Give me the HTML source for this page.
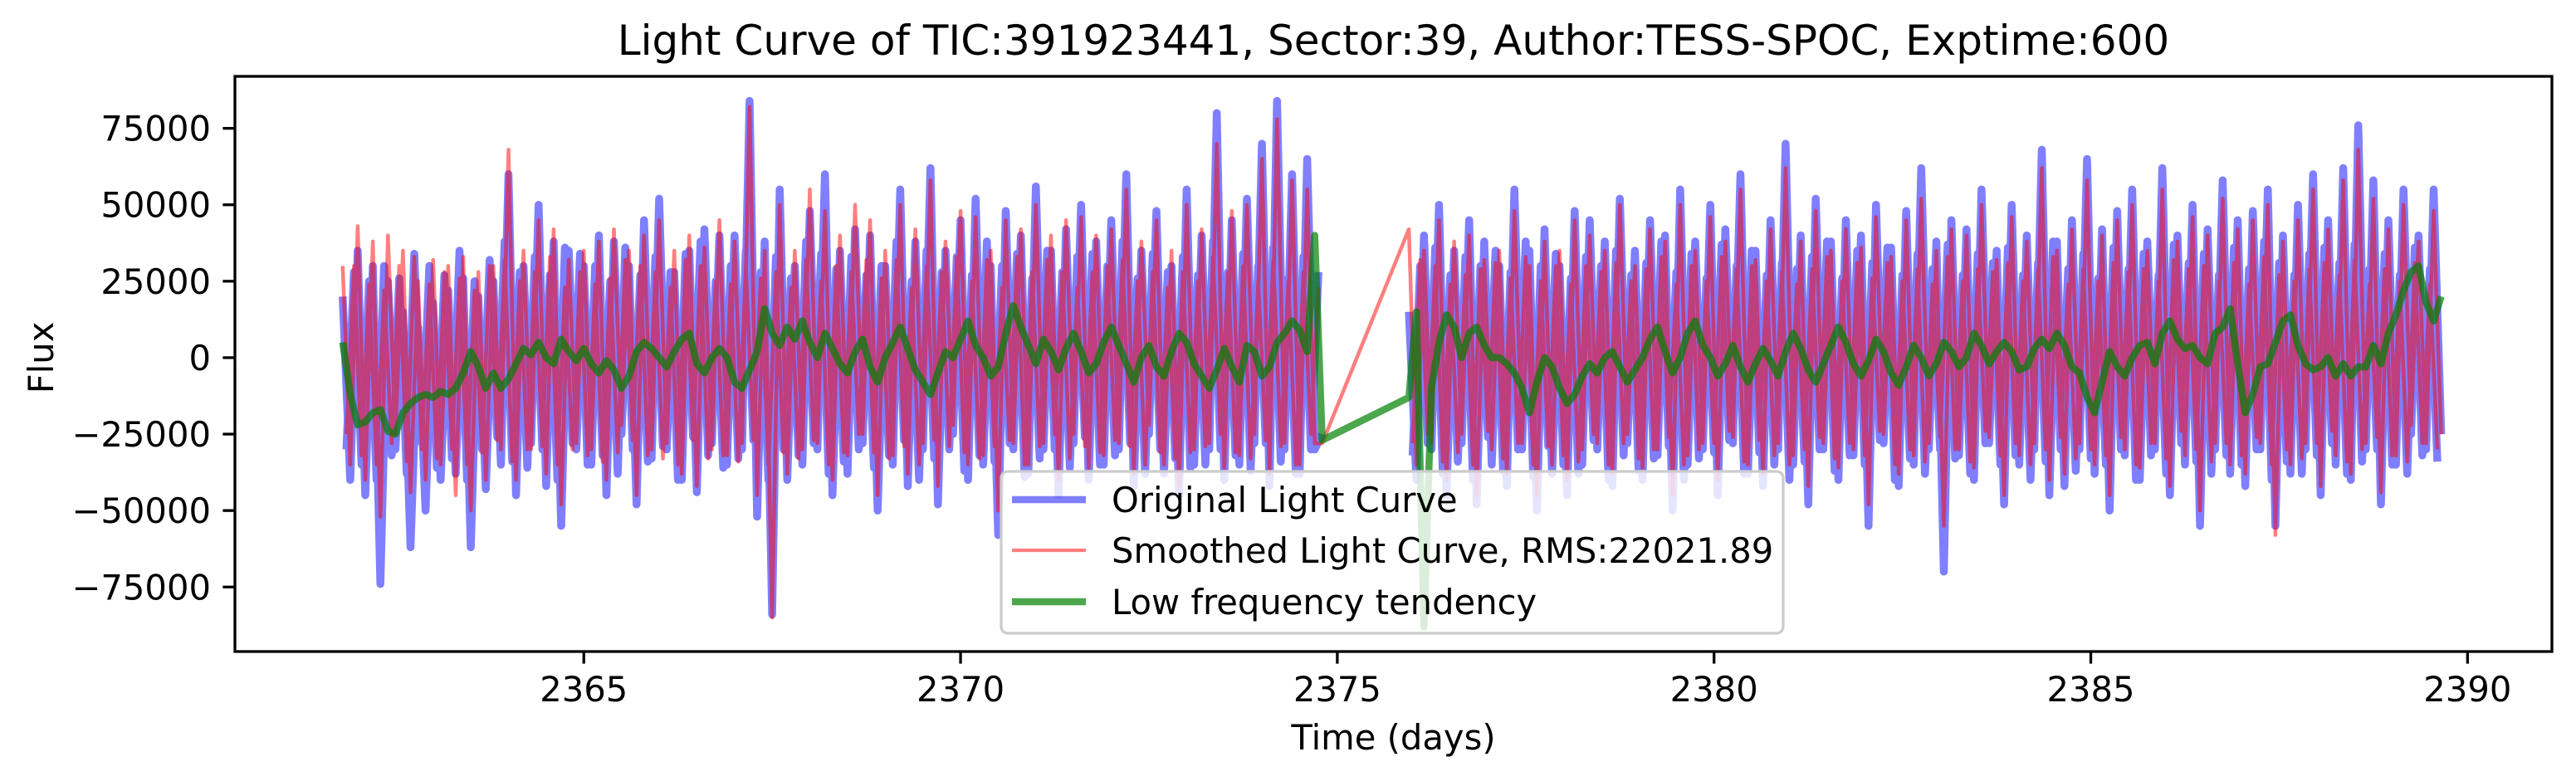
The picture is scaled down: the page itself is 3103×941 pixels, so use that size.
<!DOCTYPE html>
<html><head><meta charset="utf-8"><style>
html,body{margin:0;padding:0;background:#fff;}
svg{display:block;font-family:"DejaVu Sans","Liberation Sans",sans-serif;}
</style></head><body>
<svg id="chart" width="3103" height="941" viewBox="0 0 3103 941">
<rect x="0" y="0" width="3103" height="941" fill="#fff"/>
<g id="plot"></g>
</svg>
<script>
// ---- data ----
const blueStart1 = 2361.8, blueStart2 = 2375.95, step = 0.1;
const blue1 = [20000,-40000,35000,-45000,30000,-74000,25000,-30000,15000,-62000,
10000,-50000,18000,-40000,22000,-38000,26000,-62000,20000,-43000,
25000,-35000,60000,-45000,30000,-28000,50000,-42000,38000,-55000,
35000,-30000,30000,-35000,40000,-45000,38000,-25000,30000,-48000,
45000,-33000,52000,-30000,28000,-40000,35000,-44000,42000,-28000,
40000,-35000,40000,-30000,84000,-52000,38000,-84000,55000,-40000,
30000,-35000,48000,-30000,60000,-45000,35000,-38000,42000,-28000,
40000,-50000,30000,-35000,55000,-42000,38000,-30000,62000,-48000,
35000,-25000,45000,-40000,52000,-35000,30000,-58000,48000,-30000,
40000,-38000,56000,-30000,35000,-45000,42000,-28000,50000,-40000,
38000,-35000,45000,-30000,60000,-42000,35000,-25000,48000,-38000,
30000,-45000,55000,-35000,40000,-30000,80000,-40000,45000,-35000,
52000,-28000,70000,-42000,84000,-30000,60000,-38000,65000,-30000,
-25000];
const blue1b = [-30000,28000,-35000,25000,-40000,30000,-32000,26000,-38000,34000,
-28000,30000,-36000,27000,-33000,35000,-40000,25000,-30000,32000,
-26000,38000,-34000,28000,-36000,33000,-30000,27000,-40000,36000,
-28000,34000,-35000,30000,-32000,25000,-38000,36000,-30000,27000,
-34000,33000,-29000,28000,-40000,34000,-26000,38000,-32000,25000,
-36000,30000,-33000,35000,-27000,28000,-40000,33000,-30000,26000,
-32000,38000,-28000,34000,-38000,29000,-34000,33000,-30000,27000,
-36000,30000,-32000,38000,-27000,25000,-40000,35000,-33000,28000,
-30000,33000,-37000,27000,-32000,38000,-34000,30000,-28000,34000,
-39000,26000,-33000,35000,-30000,28000,-36000,33000,-26000,34000,
-35000,30000,-32000,38000,-28000,26000,-38000,34000,-30000,28000,
-33000,33000,-36000,27000,-35000,38000,-30000,28000,-32000,34000,
-37000,30000,-28000,36000,-34000,26000,-38000,33000,-30000,28000];
const blue2 = [15000,-40000,40000,-30000,50000,-45000,35000,-28000,45000,-48000,
38000,-35000,30000,-42000,55000,-30000,35000,-50000,42000,-38000,
30000,-45000,48000,-35000,45000,-30000,38000,-42000,52000,-28000,
35000,-40000,45000,-32000,40000,-50000,55000,-35000,38000,-30000,
50000,-45000,42000,-28000,60000,-38000,35000,-42000,45000,-30000,
70000,-35000,40000,-48000,52000,-30000,38000,-40000,45000,-32000,
40000,-55000,50000,-28000,36000,-42000,48000,-35000,62000,-30000,
38000,-70000,45000,-32000,42000,-40000,55000,-28000,35000,-48000,
50000,-35000,40000,-30000,68000,-45000,38000,-42000,45000,-30000,
65000,-38000,42000,-50000,48000,-32000,55000,-40000,38000,-30000,
62000,-45000,40000,-35000,50000,-55000,42000,-30000,58000,-38000,
45000,-42000,48000,-30000,55000,-55000,40000,-38000,50000,-30000,
60000,-45000,45000,-35000,62000,-40000,76000,-30000,58000,-48000,
45000,-35000,55000,-25000,40000,-30000,55000,-25000];
const blue2b = [-32000,30000,-28000,36000,-38000,27000,-34000,33000,-40000,30000,
-26000,35000,-37000,28000,-30000,38000,-39000,30000,-29000,34000,
-35000,26000,-38000,33000,-27000,30000,-40000,35000,-32000,27000,
-37000,31000,-33000,38000,-29000,28000,-40000,34000,-33000,26000,
-31000,37000,-27000,30000,-38000,35000,-31000,27000,-35000,31000,
-40000,29000,-34000,33000,-30000,38000,-37000,26000,-32000,35000,
-35000,31000,-27000,36000,-40000,27000,-33000,34000,-38000,29000,
-30000,37000,-33000,27000,-38000,34000,-28000,31000,-35000,36000,
-32000,27000,-40000,31000,-34000,38000,-30000,29000,-37000,34000,
-33000,26000,-35000,36000,-30000,29000,-40000,34000,-32000,27000,
-38000,37000,-28000,31000,-34000,34000,-38000,27000,-32000,36000,
-35000,29000,-30000,38000,-40000,31000,-34000,27000,-38000,34000,
-32000,36000,-28000,31000,-38000,37000,-34000,29000,-30000,34000,
-35000,27000,-38000,36000,-32000,29000,-34000];
const red1 = [30000,-35000,43000,-40000,38000,-52000,40000,-25000,35000,-44000,
25000,-40000,32000,-35000,30000,-45000,33000,-50000,28000,-40000,
30000,-30000,68000,-40000,35000,-30000,45000,-38000,42000,-48000,
32000,-28000,35000,-30000,38000,-40000,42000,-22000,35000,-45000,
40000,-30000,45000,-28000,35000,-38000,40000,-42000,36000,-30000,
45000,-32000,38000,-28000,82000,-45000,35000,-85000,50000,-38000,
35000,-30000,55000,-28000,48000,-40000,40000,-32000,50000,-25000,
45000,-45000,35000,-32000,50000,-38000,42000,-28000,58000,-42000,
38000,-22000,48000,-35000,46000,-32000,35000,-50000,45000,-28000,
42000,-35000,50000,-28000,40000,-40000,45000,-25000,46000,-36000,
40000,-32000,42000,-28000,55000,-38000,38000,-22000,45000,-35000,
35000,-42000,50000,-30000,42000,-28000,70000,-36000,48000,-32000,
50000,-25000,65000,-38000,78000,-28000,58000,-35000,55000,-28000,
-28000];
const red1b = [-25000,30000,-32000,24000,-35000,22000,-28000,30000,-34000,33000,
-30000,24000,-33000,28000,-30000,26000,-35000,22000,-31000,30000,
-27000,32000,-34000,25000,-30000,28000,-29000,33000,-35000,23000,
-30000,28000,-32000,24000,-34000,26000,-31000,32000,-27000,30000,
-32000,28000,-33000,23000,-35000,32000,-27000,30000,-33000,25000,
-32000,24000,-34000,30000,-27000,26000,-35000,28000,-31000,23000,
-33000,32000,-27000,25000,-35000,30000,-31000,28000,-25000,32000,
-31000,26000,-33000,32000,-29000,23000,-35000,30000,-27000,28000,
-29000,33000,-31000,25000,-33000,32000,-29000,23000,-27000,33000,
-35000,28000,-29000,32000,-25000,28000,-33000,23000,-29000,28000,
-31000,30000,-27000,32000,-29000,25000,-35000,28000,-31000,23000,
-33000,28000,-31000,25000,-29000,33000,-25000,28000,-31000,30000,
-33000,25000,-27000,32000,-29000,25000,-35000,28000,-25000,23000];
const red2 = [42000,-35000,35000,-28000,45000,-40000,38000,-25000,40000,-45000,
32000,-30000,35000,-38000,48000,-28000,30000,-45000,38000,-35000,
35000,-40000,45000,-30000,40000,-28000,35000,-38000,50000,-25000,
30000,-36000,42000,-30000,38000,-45000,50000,-32000,35000,-28000,
46000,-40000,38000,-26000,55000,-35000,32000,-38000,42000,-28000,
62000,-32000,38000,-42000,48000,-28000,35000,-36000,42000,-30000,
36000,-48000,46000,-25000,33000,-38000,45000,-32000,52000,-28000,
35000,-55000,42000,-30000,40000,-36000,50000,-26000,32000,-45000,
46000,-32000,38000,-28000,62000,-40000,35000,-38000,42000,-28000,
58000,-35000,40000,-45000,45000,-30000,50000,-36000,35000,-28000,
55000,-42000,38000,-32000,46000,-50000,40000,-28000,52000,-35000,
42000,-38000,45000,-28000,50000,-58000,38000,-35000,45000,-28000,
55000,-42000,42000,-32000,58000,-38000,68000,-28000,52000,-44000,
42000,-32000,50000,-22000,38000,-28000,48000,-25000];
const red2b = [-28000,32000,-25000,30000,-34000,24000,-31000,27000,-35000,29000,
-24000,31000,-33000,26000,-28000,33000,-35000,25000,-29000,30000,
-32000,24000,-34000,30000,-25000,28000,-35000,31000,-28000,25000,
-33000,29000,-30000,33000,-26000,24000,-35000,30000,-30000,25000,
-28000,33000,-24000,29000,-34000,30000,-27000,25000,-32000,28000,
-35000,24000,-30000,29000,-26000,33000,-33000,25000,-28000,31000,
-32000,26000,-24000,31000,-35000,25000,-30000,29000,-34000,24000,
-26000,33000,-30000,25000,-34000,29000,-24000,28000,-32000,31000,
-28000,25000,-35000,29000,-30000,33000,-26000,24000,-33000,29000,
-30000,25000,-32000,31000,-26000,28000,-35000,29000,-28000,25000,
-33000,32000,-24000,29000,-30000,30000,-34000,25000,-28000,31000,
-32000,24000,-26000,33000,-35000,27000,-30000,25000,-33000,29000,
-28000,31000,-24000,27000,-34000,32000,-30000,24000,-26000,29000,
-32000,25000,-34000,31000,-28000,24000,-30000];
const green1 = [5000,-12000,-22000,-21000,-18000,-17000,-24000,-25000,-18000,-15000,
-13000,-12000,-13000,-11000,-12000,-10000,-5000,2000,-3000,-10000,
-5000,-10000,-7000,-2000,3000,1000,5000,0,-2000,6000,
2000,-1000,3000,-2000,-5000,-1000,-4000,-10000,-6000,2000,
5000,3000,0,-3000,2000,6000,8000,-2000,-5000,0,
3000,0,-8000,-10000,-4000,2000,16000,8000,4000,10000,
6000,12000,5000,0,8000,3000,-2000,-5000,2000,6000,
-3000,-8000,0,5000,10000,3000,-4000,-8000,-12000,-5000,
2000,0,6000,12000,4000,0,-6000,-3000,8000,17000,
10000,4000,-2000,6000,2000,-4000,3000,8000,2000,-5000,
-2000,5000,10000,4000,-2000,-8000,0,4000,-3000,-6000,
2000,8000,5000,-2000,-6000,-10000,-4000,3000,-3000,-8000,
4000,2000,-6000,-3000,5000,8000,12000,9000,2000,40000,
-27000];
const green2 = [-13000,15000,-88000,-10000,5000,14000,10000,0,8000,10000,
4000,0,0,-2000,-5000,-10000,-18000,-8000,0,-3000,
-10000,-15000,-12000,-6000,-2000,-5000,0,2000,-3000,-8000,
-4000,0,6000,10000,2000,-5000,0,8000,12000,4000,
0,-6000,-2000,4000,-3000,-8000,-2000,3000,-1000,-6000,
2000,8000,3000,-4000,-8000,-2000,4000,10000,5000,-2000,
-6000,-1000,6000,2000,-5000,-9000,-3000,4000,0,-6000,
-2000,5000,2000,-3000,0,8000,4000,-2000,2000,5000,
2000,-4000,-3000,3000,6000,3000,8000,4000,-3000,-5000,
-13000,-18000,-8000,2000,-3000,-6000,0,4000,5000,-2000,
8000,12000,6000,3000,4000,0,-2000,8000,10000,16000,
-2000,-18000,-12000,-3000,-2000,5000,12000,14000,4000,-2000,
-4000,-3000,0,-6000,-2000,-6000,-3000,-3000,4000,-2000,
8000,14000,22000,28000,30000,18000,12000,20000];
const xTicks = [2365,2370,2375,2380,2385,2390];
const yTicks = [-75000,-50000,-25000,0,25000,50000,75000];
const yTickLabels = ["\u221275000","\u221250000","\u221225000","0","25000","50000","75000"];

// ---- axes ----
const AX = {l:283, r:3074, t:92, b:785};
const X0 = 2360.37, X1 = 2391.12, Y0 = -96100, Y1 = 92000;
const sx = t => AX.l + (t - X0) / (X1 - X0) * (AX.r - AX.l);
const sy = v => AX.b - (v - Y0) / (Y1 - Y0) * (AX.b - AX.t);
const NS = "http://www.w3.org/2000/svg";
const plot = document.getElementById('plot');
function mk(tag, attrs, parent){ const e=document.createElementNS(NS,tag); for(const k in attrs) e.setAttribute(k,attrs[k]); (parent||plot).appendChild(e); return e; }
function pts(start, vals){ return vals.map((v,i)=>sx(start+i*step).toFixed(1)+','+sy(v).toFixed(1)).join(' '); }

const clip = mk('clipPath',{id:'axclip'}); mk('rect',{x:AX.l,y:AX.t,width:AX.r-AX.l,height:AX.b-AX.t},clip);
const g = mk('g',{'clip-path':'url(#axclip)'});



const blueG = mk('g',{opacity:0.5},g);


let p;
p = mk('polyline',{points:pts(blueStart1,blue1),fill:'none',stroke:'#0000ff','stroke-width':9.5,'stroke-linejoin':'round'},blueG);


p = mk('polyline',{points:pts(blueStart1+step/2,blue1b),fill:'none',stroke:'#0000ff','stroke-width':9.5,'stroke-linejoin':'round'},blueG);


p = mk('polyline',{points:pts(blueStart2,blue2),fill:'none',stroke:'#0000ff','stroke-width':9.5,'stroke-linejoin':'round'},blueG);


p = mk('polyline',{points:pts(blueStart2+step/2,blue2b),fill:'none',stroke:'#0000ff','stroke-width':9.5,'stroke-linejoin':'round'},blueG);



const redG = mk('g',{opacity:0.5},g);


p = mk('polyline',{points:pts(blueStart1,red1)+' '+pts(blueStart2,red2),fill:'none',stroke:'#ff0000','stroke-width':4.5,'stroke-linejoin':'round'},redG);


p = mk('polyline',{points:pts(blueStart1+step/2,red1b),fill:'none',stroke:'#ff0000','stroke-width':4.5,'stroke-linejoin':'round'},redG);


p = mk('polyline',{points:pts(blueStart2+step/2,red2b),fill:'none',stroke:'#ff0000','stroke-width':4.5,'stroke-linejoin':'round'},redG);



p = mk('polyline',{points:pts(blueStart1,green1)+' '+pts(blueStart2,green2),fill:'none',stroke:'#008000','stroke-opacity':0.7,'stroke-width':8.5,'stroke-linejoin':'round'},g);



// ---- ticks ----
xTicks.forEach(t=>{
  const l = mk('line',{x1:sx(t),x2:sx(t),y1:AX.b,y2:AX.b+14.6,stroke:'#000','stroke-width':3.3});
  
  
  const tx = mk('text',{x:sx(t),y:AX.b+60,'font-size':41.7,'text-anchor':'middle',fill:'#000'});
  tx.textContent = t;
  
  
});
yTicks.forEach((v,i)=>{
  const l = mk('line',{x1:AX.l-14.6,x2:AX.l,y1:sy(v),y2:sy(v),stroke:'#000','stroke-width':3.3});
  
  
  const tx = mk('text',{x:AX.l-29,y:sy(v)+15,'font-size':41.7,'text-anchor':'end',fill:'#000'});
  tx.textContent = yTickLabels[i];
  
  
});
const frame = mk('rect',{x:AX.l,y:AX.t,width:AX.r-AX.l,height:AX.b-AX.t,fill:'none',stroke:'#000','stroke-width':3.3});



// ---- labels ----
let t;
t = mk('text',{x:(AX.l+AX.r)/2,y:66,'font-size':50,'text-anchor':'middle',fill:'#000'});
t.textContent='Light Curve of TIC:391923441, Sector:39, Author:TESS-SPOC, Exptime:600';


t = mk('text',{x:(AX.l+AX.r)/2,y:903,'font-size':41.7,'text-anchor':'middle',fill:'#000'});
t.textContent='Time (days)';


t = mk('text',{x:0,y:0,'font-size':41.7,'text-anchor':'middle',fill:'#000',transform:'translate(64,'+sy(0)+') rotate(-90)'});
t.textContent='Flux';



// ---- legend ----
const lg = mk('g',{});


mk('rect',{x:1206,y:568,width:942,height:195,rx:8,fill:'#fff','fill-opacity':0.8,stroke:'#cccccc','stroke-width':3.3},lg);
const legItems = [
  {label:'Original Light Curve',color:'#0000ff',op:0.5,w:8.5,y:602,name:'legend-entry-original'},
  {label:'Smoothed Light Curve, RMS:22021.89',color:'#ff0000',op:0.5,w:4.2,y:663,name:'legend-entry-smoothed'},
  {label:'Low frequency tendency',color:'#008000',op:0.7,w:8.5,y:725,name:'legend-entry-low-frequency'}
];
legItems.forEach(it=>{
  const eg = mk('g',{},lg);
  
  
  mk('line',{x1:1219,x2:1308,y1:it.y,y2:it.y,stroke:it.color,'stroke-opacity':it.op,'stroke-width':it.w},eg);
  const tx = mk('text',{x:1339,y:it.y+15,'font-size':41.7,fill:'#000'},eg);
  tx.textContent = it.label;
});
</script>
</body></html>
